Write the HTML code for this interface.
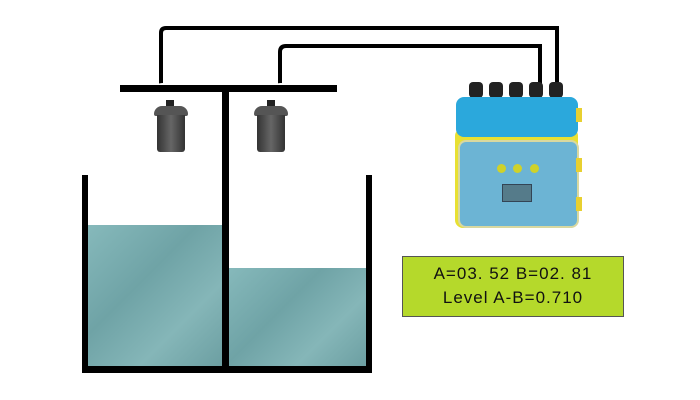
<!DOCTYPE html>
<html><head><style>
body{margin:0;width:700px;height:400px;background:#fff;overflow:hidden;position:relative;font-family:"Liberation Mono",monospace}
div{position:absolute}
.k{background:#000}
.w{background:linear-gradient(135deg,#86b9bb,#6fa3a6 40%,#85b6b8 70%,#6c9fa2)}
</style></head><body>
<svg width="700" height="400" style="position:absolute;left:0;top:0">
<path d="M161 86 V33 Q161 28 166 28 H557 V88" fill="none" stroke="#000" stroke-width="4"/>
<path d="M280 86 V52 Q280 46 286 46 H540 V88" fill="none" stroke="#000" stroke-width="4"/>
<ellipse cx="163" cy="88" rx="9" ry="5" fill="#fff"/>
<ellipse cx="281" cy="88" rx="9" ry="5" fill="#fff"/>
</svg>
<div class="k" style="left:120px;top:85px;width:217px;height:7px"></div>
<div class="k" style="left:222px;top:90px;width:7px;height:282px"></div>
<div class="k" style="left:82px;top:175px;width:6px;height:197px"></div>
<div class="k" style="left:366px;top:175px;width:6px;height:197px"></div>
<div class="k" style="left:82px;top:366px;width:290px;height:7px"></div>
<div class="w" style="left:88px;top:225px;width:134px;height:141px"></div>
<div class="w" style="left:229px;top:268px;width:137px;height:98px"></div>
<!-- sensors -->
<div style="left:166px;top:100px;width:8px;height:7px;background:#222"></div>
<div style="left:154px;top:106px;width:34px;height:10px;background:#555;border-radius:8px 8px 2px 2px"></div>
<div style="left:157px;top:115px;width:28px;height:37px;background:linear-gradient(90deg,#333,#666 50%,#333);border-radius:0 0 3px 3px"></div>
<div style="left:267px;top:100px;width:8px;height:7px;background:#222"></div>
<div style="left:254px;top:106px;width:34px;height:10px;background:#555;border-radius:8px 8px 2px 2px"></div>
<div style="left:257px;top:115px;width:28px;height:37px;background:linear-gradient(90deg,#333,#666 50%,#333);border-radius:0 0 3px 3px"></div>
<!-- controller -->
<div style="left:469px;top:82px;width:14px;height:16px;background:#222;border-radius:4px"></div>
<div style="left:489px;top:82px;width:14px;height:16px;background:#222;border-radius:4px"></div>
<div style="left:509px;top:82px;width:14px;height:16px;background:#222;border-radius:4px"></div>
<div style="left:529px;top:82px;width:14px;height:16px;background:#222;border-radius:4px"></div>
<div style="left:549px;top:82px;width:14px;height:16px;background:#222;border-radius:4px"></div>
<div style="left:455px;top:128px;width:123px;height:100px;background:#e8e033;border-radius:8px"></div>
<div style="left:458px;top:140px;width:117px;height:84px;background:#6cb4d4;border:2px solid #d8d8a0;border-radius:8px"></div>
<div style="left:456px;top:97px;width:122px;height:40px;background:#2ba8dc;border-radius:8px"></div>
<div style="left:576px;top:108px;width:6px;height:14px;background:#e8d030"></div>
<div style="left:576px;top:158px;width:6px;height:14px;background:#e8d030"></div>
<div style="left:576px;top:197px;width:6px;height:14px;background:#e8d030"></div>
<div style="left:497px;top:164px;width:9px;height:9px;border-radius:50%;background:#cfd22a"></div>
<div style="left:513px;top:164px;width:9px;height:9px;border-radius:50%;background:#cfd22a"></div>
<div style="left:530px;top:164px;width:9px;height:9px;border-radius:50%;background:#cfd22a"></div>
<div style="left:502px;top:184px;width:28px;height:16px;background:#557b8a;border:1px solid #345"></div>
<!-- LCD -->
<div style="left:402px;top:256px;width:222px;height:61px;background:#b5d92b;border:1px solid #555;font-family:'Liberation Sans',sans-serif;font-size:17px;line-height:24px;text-align:center;padding-top:5px;box-sizing:border-box;color:#111;letter-spacing:1px">A=03. 52 B=02. 81<br>Level A-B=0.710</div>
</body></html>
